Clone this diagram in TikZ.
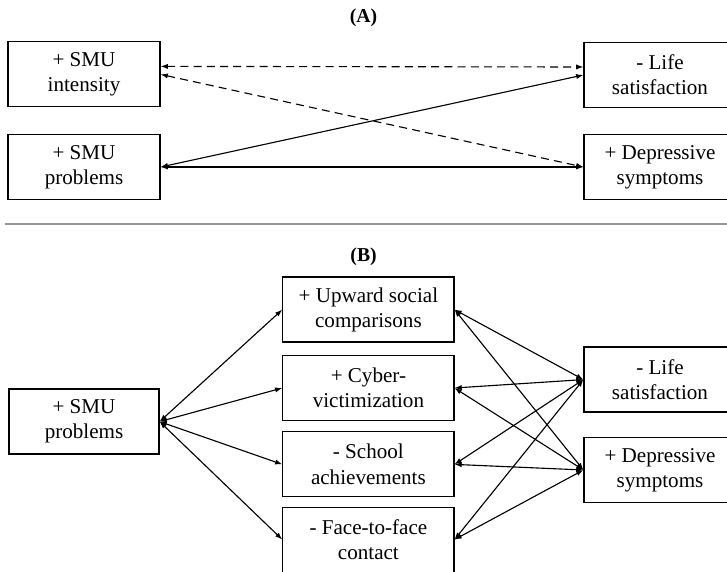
\documentclass[tikz,border=0pt]{standalone}
\usepackage{fontspec}
\setmainfont{Liberation Serif}
\usetikzlibrary{arrows.meta,positioning}
\definecolor{rulegray}{RGB}{150,150,150}

\tikzset{
  varbox/.style={draw, line width=0.85pt, align=center, minimum height=1.625cm, inner sep=2pt},
  link/.style={{Latex[length=1.8mm,width=1.3mm]}-{Latex[length=1.8mm,width=1.3mm]}, line width=0.8pt},
  dlink/.style={link, dash pattern=on 2mm off 1.3mm},
  paneltitle/.style={font=\fontsize{14}{16}\selectfont\bfseries}
}

\begin{document}
\begin{tikzpicture}[x=1cm, y=1cm, font=\fontsize{15}{18}\selectfont]
\useasboundingbox (0,0) rectangle (18.175,-14.3);
% panel A
\node[paneltitle] (titA) at (9.09,-0.45) {(A)};
\node[varbox, minimum width=3.8cm] (intA) at (2.1,-1.86) {+ SMU\\intensity};
\node[varbox, minimum width=3.8cm] (probA) at (2.1,-4.175) {+ SMU\\problems};
\node[varbox, minimum width=3.8cm] (lifeA) at (16.5,-1.875) {- Life\\satisfaction};
\node[varbox, minimum width=3.8cm] (depA) at (16.5,-4.175) {+ Depressive\\symptoms};
\draw[dlink] ([yshift=0.2cm]intA.east) -- ([yshift=0.2cm]lifeA.west);
\draw[dlink] (intA.east) -- (depA.west);
\draw[link] (probA.east) -- (lifeA.west);
\draw[link] (probA.east) -- (depA.west);
% separator
\coordinate (sepL) at (0.125,-5.6);
\coordinate (sepR) at (18.175,-5.6);
\draw[rulegray, line width=0.9pt] (sepL) -- (sepR);
% panel B
\node[paneltitle] (titB) at (9.09,-6.425) {(B)};
\node[varbox, minimum width=3.75cm] (probB) at (2.1,-10.54) {+ SMU\\problems};
\foreach \n/\y/\t in {up/-7.74/{+ Upward social\\comparisons},
                      cyb/-9.7/{+ Cyber-\\victimization},
                      sch/-11.61/{- School\\achievements},
                      ftf/-13.49/{- Face-to-face\\contact}} {
  \node[varbox, minimum width=4.275cm] (\n) at (9.21,\y) {\t};
}
\node[varbox, minimum width=3.8cm] (lifeB) at (16.5,-9.49) {- Life\\satisfaction};
\node[varbox, minimum width=3.8cm] (depB) at (16.5,-11.75) {+ Depressive\\symptoms};
\foreach \n in {up,cyb,sch,ftf} {
  \draw[link] (probB.east) -- (\n.west);
  \draw[link] (\n.east) -- (lifeB.west);
  \draw[link] (\n.east) -- (depB.west);
}
\end{tikzpicture}
\end{document}
